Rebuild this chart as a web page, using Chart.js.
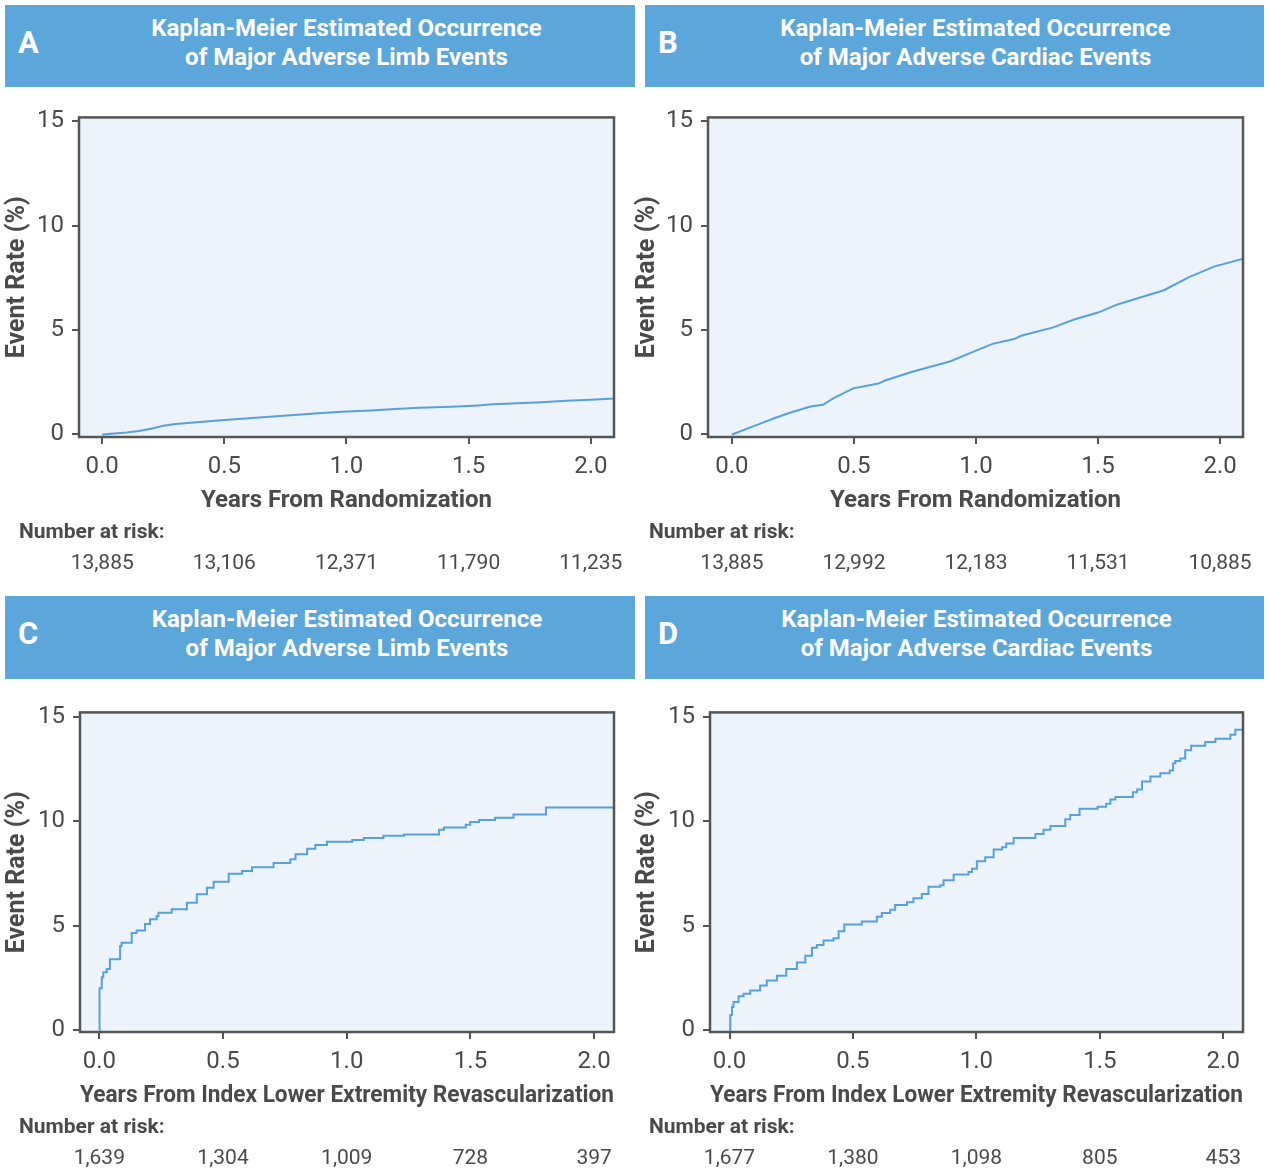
<!DOCTYPE html>
<html>
<head>
<meta charset="utf-8">
<script src="https://cdn.jsdelivr.net/npm/chart.js@4.4.1/dist/chart.umd.min.js"></script>
<style>
  body { margin: 0; width: 1270px; height: 1172px; background: #fff; position: relative; overflow: hidden;
         font-family: Roboto, "Liberation Sans", sans-serif; color: #4a4a4a; }
  .header { position: absolute; background: #5ba6da; }
  .letter { position: absolute; color: #fff; font: bold 31px/40px Roboto, sans-serif; }
  .title { position: absolute; color: #fff; text-align: center; font: bold 24px/29px Roboto, sans-serif; white-space: nowrap; }
  canvas { position: absolute; }
  .risk-label { position: absolute; font: bold 21px/24px Roboto, sans-serif; }
  .risk-num { position: absolute; font: 21px/24px Roboto, sans-serif; transform: translateX(-50%); white-space: nowrap; }
</style>
</head>
<body>
<script>
// axis ticks shared by all four panels
const xTicks = [0, 0.5, 1, 1.5, 2];
const yTicks = [0, 5, 10, 15];

// A: major adverse limb events, years from randomization
const timesA = [0, 0.05, 0.1, 0.15, 0.2, 0.25, 0.3, 0.4, 0.5, 0.6, 0.7, 0.8, 0.9, 1.0, 1.1, 1.2, 1.3, 1.4, 1.5, 1.55, 1.6, 1.7, 1.8, 1.9, 2.0, 2.095];
const ratesA = [0, 0.05, 0.1, 0.17, 0.28, 0.42, 0.5, 0.6, 0.7, 0.78, 0.86, 0.95, 1.03, 1.1, 1.15, 1.22, 1.28, 1.32, 1.37, 1.4, 1.45, 1.5, 1.55, 1.62, 1.66, 1.72];

// B: major adverse cardiac events, years from randomization
const timesB = [0, 0.1, 0.176, 0.234, 0.322, 0.373, 0.417, 0.497, 0.6, 0.63, 0.746, 0.893, 1.0, 1.068, 1.156, 1.185, 1.317, 1.405, 1.5, 1.58, 1.77, 1.873, 1.975, 2.095];
const ratesB = [0, 0.45, 0.79, 1.03, 1.34, 1.42, 1.74, 2.21, 2.44, 2.6, 3.03, 3.5, 4.02, 4.34, 4.57, 4.73, 5.13, 5.52, 5.84, 6.23, 6.91, 7.54, 8.04, 8.42];

// C: major adverse limb events, years from index revascularization (step curve)
const timesC = [0, 0.001, 0.01, 0.016, 0.03, 0.043, 0.084, 0.09, 0.131, 0.151, 0.185, 0.205, 0.232, 0.239, 0.293, 0.354, 0.394, 0.435, 0.462, 0.523, 0.577, 0.617, 0.704, 0.772, 0.793, 0.84, 0.873, 0.92, 1.022, 1.069, 1.148, 1.231, 1.373, 1.393, 1.481, 1.499, 1.535, 1.599, 1.674, 1.805, 2.08];
const ratesC = [0, 2.0, 2.52, 2.76, 2.92, 3.39, 4.02, 4.18, 4.65, 4.76, 5.08, 5.3, 5.46, 5.62, 5.79, 6.1, 6.5, 6.81, 7.1, 7.49, 7.62, 7.8, 8.0, 8.18, 8.42, 8.69, 8.86, 9.02, 9.1, 9.2, 9.31, 9.37, 9.59, 9.7, 9.83, 9.97, 10.06, 10.17, 10.33, 10.66, 10.66];

// D: major adverse cardiac events, years from index revascularization (step curve)
const timesD = [0, 0.003, 0.01, 0.016, 0.037, 0.057, 0.084, 0.124, 0.151, 0.192, 0.23, 0.273, 0.307, 0.334, 0.354, 0.381, 0.421, 0.442, 0.465, 0.536, 0.597, 0.617, 0.651, 0.671, 0.719, 0.745, 0.779, 0.806, 0.854, 0.867, 0.908, 0.968, 0.982, 1.002, 1.036, 1.07, 1.104, 1.121, 1.151, 1.239, 1.272, 1.3, 1.36, 1.38, 1.418, 1.491, 1.526, 1.543, 1.563, 1.634, 1.651, 1.671, 1.705, 1.745, 1.783, 1.797, 1.806, 1.826, 1.846, 1.87, 1.927, 1.968, 2.029, 2.049, 2.08];
const ratesD = [0, 0.71, 1.1, 1.34, 1.61, 1.73, 1.89, 2.13, 2.37, 2.6, 2.92, 3.23, 3.55, 3.94, 4.07, 4.29, 4.39, 4.73, 5.05, 5.2, 5.43, 5.6, 5.76, 5.99, 6.12, 6.31, 6.52, 6.86, 6.94, 7.18, 7.45, 7.57, 7.73, 8.08, 8.28, 8.65, 8.76, 8.94, 9.2, 9.39, 9.59, 9.78, 10.1, 10.3, 10.6, 10.7, 10.84, 11.04, 11.17, 11.39, 11.52, 11.91, 12.15, 12.3, 12.43, 12.78, 12.89, 13.01, 13.41, 13.62, 13.8, 13.96, 14.15, 14.39, 14.39];

// number at risk under each x tick
const riskA = ['13,885', '13,106', '12,371', '11,790', '11,235'];
const riskB = ['13,885', '12,992', '12,183', '11,531', '10,885'];
const riskC = ['1,639', '1,304', '1,009', '728', '397'];
const riskD = ['1,677', '1,380', '1,098', '805', '453'];

const titleLimb = ['Kaplan-Meier Estimated Occurrence', 'of Major Adverse Limb Events'];
const titleCardiac = ['Kaplan-Meier Estimated Occurrence', 'of Major Adverse Cardiac Events'];
const xTitleRandom = 'Years From Randomization';
const xTitleRevasc = 'Years From Index Lower Extremity Revascularization';

const LINE_COLOR = '#54a2db';
const AXIS_COLOR = '#555555';
const TEXT_COLOR = '#4a4a4a';

const panels = [
  { letter: 'A', title: titleLimb, xTitle: xTitleRandom, times: timesA, rates: ratesA, risk: riskA, stepped: false,
    header: [5, 5, 630, 82], canvas: [0, 95], yWidth: 79, padRight: 26, xMin: -0.095, xMax: 2.095, yMin: -0.12, yMax: 15.19 },
  { letter: 'B', title: titleCardiac, xTitle: xTitleRandom, times: timesB, rates: ratesB, risk: riskB, stepped: false,
    header: [645, 5, 619, 82], canvas: [630, 95], yWidth: 78, padRight: 27, xMin: -0.098, xMax: 2.094, yMin: -0.12, yMax: 15.19 },
  { letter: 'C', title: titleLimb, xTitle: xTitleRevasc, times: timesC, rates: ratesC, risk: riskC, stepped: true,
    header: [5, 596, 630, 83], canvas: [0, 690], yWidth: 80, padRight: 26, xMin: -0.078, xMax: 2.08, yMin: -0.1, yMax: 15.22 },
  { letter: 'D', title: titleCardiac, xTitle: xTitleRevasc, times: timesD, rates: ratesD, risk: riskD, stepped: true,
    header: [645, 596, 619, 83], canvas: [630, 690], yWidth: 80, padRight: 27, xMin: -0.079, xMax: 2.08, yMin: -0.1, yMax: 15.22 }
];

const CANVAS_W = 640;
const CANVAS_H = 425;
const PAD_TOP = 18;
const X_AXIS_H = 83;

// light blue plot background and the dark frame round it
const framePlugin = {
  id: 'frame',
  beforeDraw(chart) {
    const { ctx, chartArea: a } = chart;
    ctx.save();
    ctx.fillStyle = '#ecf3fb';
    ctx.fillRect(a.left, a.top, a.right - a.left, a.bottom - a.top);
    ctx.restore();
  },
  afterDraw(chart) {
    const { ctx, chartArea: a } = chart;
    ctx.save();
    ctx.strokeStyle = AXIS_COLOR;
    ctx.lineWidth = 2.5;
    ctx.strokeRect(a.left, a.top, a.right - a.left, a.bottom - a.top);
    ctx.restore();
  }
};

function addDiv(cls, text, style) {
  const d = document.createElement('div');
  d.className = cls;
  d.textContent = text;
  Object.assign(d.style, style);
  document.body.appendChild(d);
  return d;
}

function buildPanel(p) {
  // header bar
  const [hx, hy, hw, hh] = p.header;
  const header = document.createElement('div');
  header.className = 'header';
  Object.assign(header.style, { left: hx + 'px', top: hy + 'px', width: hw + 'px', height: hh + 'px' });
  document.body.appendChild(header);

  const [cx, cy] = p.canvas;
  const canvas = document.createElement('canvas');
  canvas.width = CANVAS_W;
  canvas.height = CANVAS_H;
  canvas.style.left = cx + 'px';
  canvas.style.top = cy + 'px';
  document.body.appendChild(canvas);

  const tickFont = { family: 'Roboto', size: 24 };
  const titleFont = { family: 'Roboto', size: 24, weight: 'bold' };

  const chart = new Chart(canvas.getContext('2d'), {
    type: 'line',
    data: {
      datasets: [{
        data: p.times.map((t, i) => ({ x: t, y: p.rates[i] })),
        borderColor: LINE_COLOR,
        borderWidth: 2,
        pointRadius: 0,
        fill: false,
        tension: 0,
        stepped: p.stepped
      }]
    },
    options: {
      responsive: false,
      animation: false,
      devicePixelRatio: 1,
      layout: { padding: { top: PAD_TOP, right: p.padRight, left: 0, bottom: 0 } },
      plugins: { legend: { display: false }, tooltip: { enabled: false } },
      scales: {
        x: {
          type: 'linear',
          min: p.xMin,
          max: p.xMax,
          afterBuildTicks: s => { s.ticks = xTicks.map(v => ({ value: v })); },
          afterFit: s => { s.height = X_AXIS_H; },
          ticks: { callback: v => v.toFixed(1), color: TEXT_COLOR, font: tickFont, padding: 9, maxRotation: 0 },
          grid: { drawOnChartArea: false, drawTicks: true, tickLength: 7, color: AXIS_COLOR, lineWidth: 2 },
          border: { display: false },
          title: { display: true, text: p.xTitle, color: TEXT_COLOR, font: titleFont, padding: { top: 0, bottom: 5 } }
        },
        y: {
          type: 'linear',
          min: p.yMin,
          max: p.yMax,
          afterBuildTicks: s => { s.ticks = yTicks.map(v => ({ value: v })); },
          afterFit: s => { s.width = p.yWidth; },
          ticks: { callback: v => String(v), color: TEXT_COLOR, font: tickFont, padding: 8 },
          grid: { drawOnChartArea: false, drawTicks: true, tickLength: 7, color: AXIS_COLOR, lineWidth: 2 },
          border: { display: false },
          title: { display: true, text: 'Event Rate (%)', color: TEXT_COLOR, font: { family: 'Roboto', size: 25, weight: 'bold' }, padding: { top: 3, bottom: 0 } }
        }
      }
    },
    plugins: [framePlugin]
  });

  const area = chart.chartArea;
  const plotLeft = cx + area.left;
  const plotRight = cx + area.right;

  // panel letter and centred title
  addDiv('letter', p.letter, { left: (hx + 13) + 'px', top: (hy + 18) + 'px' });
  const t = addDiv('title', '', { left: plotLeft + 'px', width: (plotRight - plotLeft) + 'px', top: (hy + 9) + 'px' });
  p.title.forEach(line => {
    const l = document.createElement('div');
    l.textContent = line;
    t.appendChild(l);
  });

  // number at risk table under the x ticks
  const tableTop = cy + CANVAS_H;
  addDiv('risk-label', 'Number at risk:', { left: (cx + 19) + 'px', top: (tableTop - 1) + 'px' });
  xTicks.forEach((v, i) => {
    const px = cx + chart.scales.x.getPixelForValue(v);
    addDiv('risk-num', p.risk[i], { left: px + 'px', top: (tableTop + 30) + 'px' });
  });
}

panels.forEach(buildPanel);
</script>
</body>
</html>
